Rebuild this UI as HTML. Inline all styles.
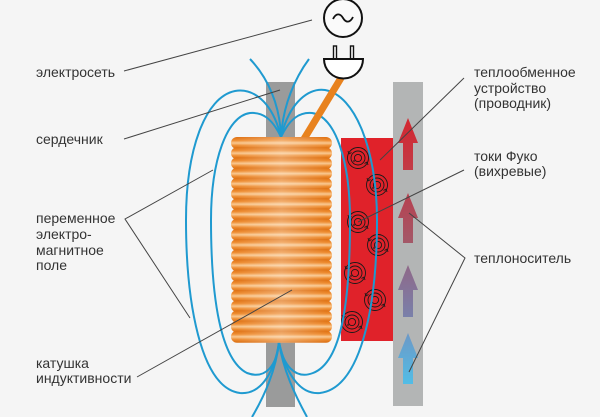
<!DOCTYPE html>
<html><head><meta charset="utf-8"><style>
html,body{margin:0;padding:0;background:#f5f5f5;}
svg{display:block;}
text{font-family:"Liberation Sans",Arial,sans-serif;font-size:14px;fill:#333;}
</style></head><body>
<svg width="600" height="417" viewBox="0 0 600 417" xmlns="http://www.w3.org/2000/svg">
<defs>
<linearGradient id="turn" x1="0" y1="0" x2="0" y2="1">
<stop offset="0" stop-color="#de7012"/>
<stop offset="0.28" stop-color="#ee8c30"/>
<stop offset="0.5" stop-color="#f9c890"/>
<stop offset="0.72" stop-color="#ee8c30"/>
<stop offset="1" stop-color="#d86c10"/>
</linearGradient>
<linearGradient id="hl" x1="0" y1="0" x2="1" y2="0">
<stop offset="0" stop-color="#fff" stop-opacity="0"/>
<stop offset="0.5" stop-color="#fff" stop-opacity="0.3"/>
<stop offset="1" stop-color="#fff" stop-opacity="0"/>
</linearGradient>
<linearGradient id="a1" x1="0" y1="0" x2="0" y2="1"><stop offset="0" stop-color="#d4262f"/><stop offset="1" stop-color="#c23c47"/></linearGradient>
<linearGradient id="a2" x1="0" y1="0" x2="0" y2="1"><stop offset="0" stop-color="#b8404f"/><stop offset="1" stop-color="#a35868"/></linearGradient>
<linearGradient id="a3" x1="0" y1="0" x2="0" y2="1"><stop offset="0" stop-color="#8f6888"/><stop offset="1" stop-color="#7a80aa"/></linearGradient>
<linearGradient id="a4" x1="0" y1="0" x2="0" y2="1"><stop offset="0" stop-color="#6d98c6"/><stop offset="1" stop-color="#52bde6"/></linearGradient>
<g id="eddy" fill="none" stroke="#1a1a1a" stroke-width="0.9">
<circle r="10.5"/><circle r="7"/><circle r="3.6"/>
<path d="M-9,-4 l-1,-3 M-9,-4 l2.5,-1.5 M9,4 l1,3 M9,4 l-2.5,1.5 M-3,3 l-2,0" />
</g>
</defs>

<rect x="266" y="82" width="29" height="57" fill="#9a9b9b"/>
<rect x="266" y="338" width="29" height="69" fill="#9a9b9b"/>

<rect x="341" y="138" width="52" height="203" fill="#e0222a"/>

<rect x="393" y="82" width="30" height="324" fill="#b3b5b5"/>

<path d="M408,118 L418,143 L413,143 L413,170 L403,170 L403,143 L398,143 Z" fill="url(#a1)"/>
<path d="M408,193 L418,218 L413,218 L413,243 L403,243 L403,218 L398,218 Z" fill="url(#a2)"/>
<path d="M408,265 L418,290 L413,290 L413,317 L403,317 L403,290 L398,290 Z" fill="url(#a3)"/>
<path d="M408,333 L418,358 L413,358 L413,384 L403,384 L403,358 L398,358 Z" fill="url(#a4)"/>

<use href="#eddy" x="358" y="158"/>
<use href="#eddy" x="377" y="185"/>
<use href="#eddy" x="358" y="222"/>
<use href="#eddy" x="378" y="245"/>
<use href="#eddy" x="355" y="273"/>
<use href="#eddy" x="375" y="300"/>
<use href="#eddy" x="352" y="322"/>

<g fill="none" stroke="#1f9ad0" stroke-width="2">
<path d="M281,137 C280,105 268,78 250,59"/>
<path d="M281,137 C283,105 295,78 309,59"/>
<path d="M279,342 C276,370 265,395 252,417"/>
<path d="M279,342 C283,370 295,395 307,417"/>
<path d="M281,137 C272,100 252,88 235,91 C205,97 186,150 186,220 C186,300 200,388 240,393 C262,395 275,370 279,342"/>
<path d="M281,137 C272,118 262,112 250,113 C227,116 211,160 211,220 C211,300 221,360 247,373 C266,380 277,365 279,342"/>
<path d="M281,137 C290,100 310,88 325,90 C355,95 377,150 377,220 C377,310 360,388 320,393 C298,395 285,370 279,342"/>
<path d="M281,137 C290,118 300,112 312,113 C335,116 350,160 350,220 C350,300 342,362 313,373 C295,380 283,365 279,342"/>
</g>

<line x1="341" y1="78" x2="304" y2="139" stroke="#e8821e" stroke-width="7"/>

<g>
<rect x="231" y="137" width="101" height="12" rx="6" fill="url(#turn)"/>
<rect x="231" y="147.2" width="101" height="12" rx="6" fill="url(#turn)"/>
<rect x="231" y="157.4" width="101" height="12" rx="6" fill="url(#turn)"/>
<rect x="231" y="167.6" width="101" height="12" rx="6" fill="url(#turn)"/>
<rect x="231" y="177.8" width="101" height="12" rx="6" fill="url(#turn)"/>
<rect x="231" y="188" width="101" height="12" rx="6" fill="url(#turn)"/>
<rect x="231" y="198.2" width="101" height="12" rx="6" fill="url(#turn)"/>
<rect x="231" y="208.4" width="101" height="12" rx="6" fill="url(#turn)"/>
<rect x="231" y="218.6" width="101" height="12" rx="6" fill="url(#turn)"/>
<rect x="231" y="228.8" width="101" height="12" rx="6" fill="url(#turn)"/>
<rect x="231" y="239" width="101" height="12" rx="6" fill="url(#turn)"/>
<rect x="231" y="249.2" width="101" height="12" rx="6" fill="url(#turn)"/>
<rect x="231" y="259.4" width="101" height="12" rx="6" fill="url(#turn)"/>
<rect x="231" y="269.6" width="101" height="12" rx="6" fill="url(#turn)"/>
<rect x="231" y="279.8" width="101" height="12" rx="6" fill="url(#turn)"/>
<rect x="231" y="290" width="101" height="12" rx="6" fill="url(#turn)"/>
<rect x="231" y="300.2" width="101" height="12" rx="6" fill="url(#turn)"/>
<rect x="231" y="310.4" width="101" height="12" rx="6" fill="url(#turn)"/>
<rect x="231" y="320.6" width="101" height="12" rx="6" fill="url(#turn)"/>
<rect x="231" y="330.8" width="101" height="12" rx="6" fill="url(#turn)"/>
<rect x="236" y="137" width="91" height="206" fill="url(#hl)"/>
</g>

<circle cx="343" cy="18" r="19" fill="#fafafa" stroke="#111" stroke-width="2"/>
<path d="M333,19 C336,13 340,13 343,18 C346,23 350,23 353,17" fill="none" stroke="#111" stroke-width="1.8"/>

<rect x="333.5" y="46" width="3" height="13" fill="#fff" stroke="#111" stroke-width="1.4"/>
<rect x="350.5" y="46" width="3" height="13" fill="#fff" stroke="#111" stroke-width="1.4"/>
<path d="M324,59 H363 A19.5,19.5 0 0 1 324,59 Z" fill="#fff" stroke="#111" stroke-width="2"/>

<g stroke="#444" stroke-width="1" fill="none">
<line x1="124" y1="71" x2="312" y2="20"/>
<line x1="124" y1="139" x2="280" y2="90"/>
<polyline points="213,170 125,219 190,318"/>
<line x1="137" y1="377" x2="292" y2="290"/>
<line x1="464" y1="78" x2="380" y2="160"/>
<line x1="464" y1="170" x2="358" y2="222"/>
<polyline points="409,213 465,258 409,372"/>
</g>

<text x="36" y="77">электросеть</text>
<text x="36" y="144">сердечник</text>
<text x="36" y="223">переменное</text>
<text x="36" y="239">электро-</text>
<text x="36" y="255">магнитное</text>
<text x="36" y="270">поле</text>
<text x="36" y="368">катушка</text>
<text x="36" y="383">индуктивности</text>
<text x="474" y="77">теплообменное</text>
<text x="474" y="93">устройство</text>
<text x="474" y="108">(проводник)</text>
<text x="474" y="161">токи Фуко</text>
<text x="474" y="176">(вихревые)</text>
<text x="474" y="263">теплоноситель</text>
</svg>
</body></html>
